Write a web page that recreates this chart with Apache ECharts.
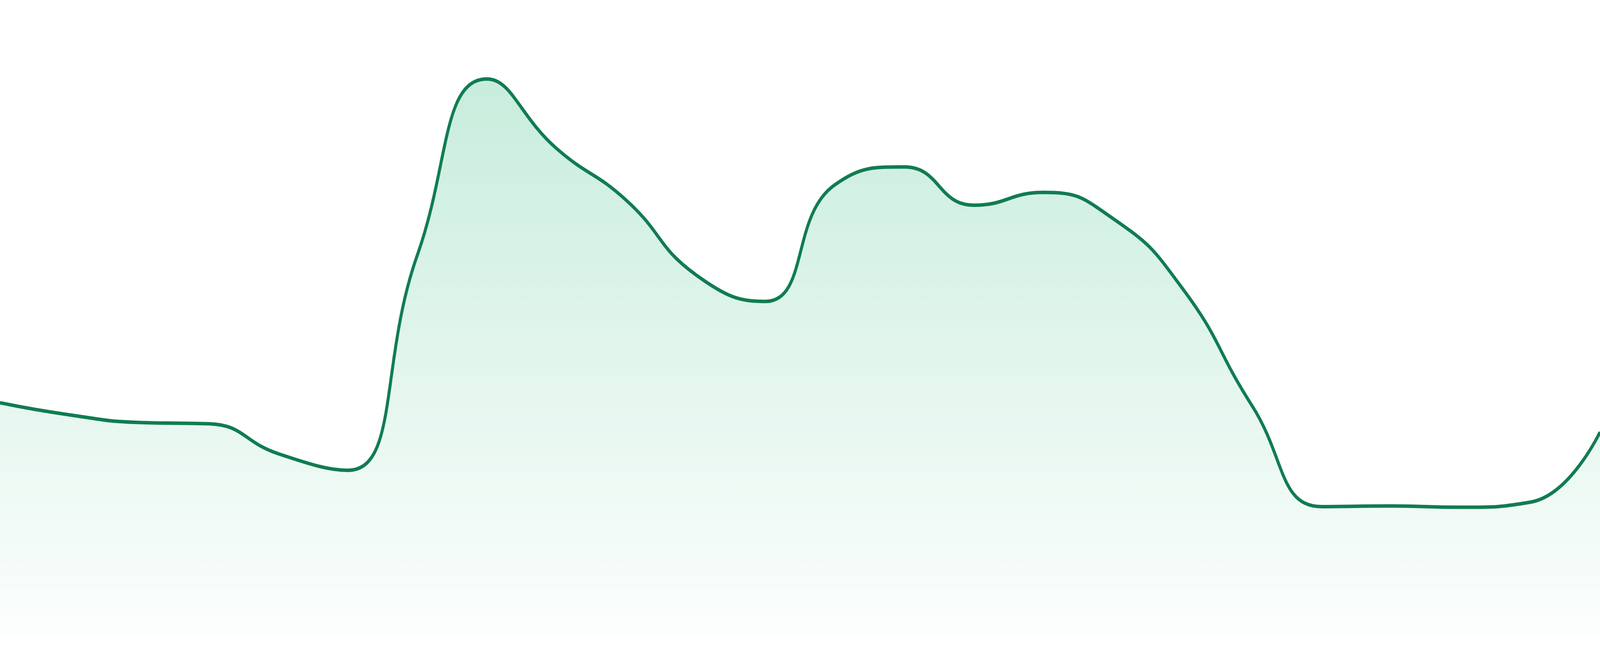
<!DOCTYPE html>
<html>
<head>
<meta charset="utf-8">
<script src="https://cdn.jsdelivr.net/npm/echarts@6/dist/echarts.min.js"></script>
<style>
  html, body { margin: 0; padding: 0; background: #ffffff; width: 100%; height: 100%; overflow: hidden; }
  #chart { width: 4800px; height: 1680px; transform-origin: 0 0; }
</style>
</head>
<body>
<div id="chart"></div>
<script>
const categories = ['1','2','3','4','5','6','7','8','9','10','11','12','13','14','15','16','17','18','19','20','21','22','23','24'];
const values = [36.8, 34.9, 33.7, 33.5, 28.8, 26.2, 60.0, 87.6, 76.7, 68.6, 56.9, 52.7, 71.0, 73.8, 67.8, 69.8, 65.7, 54.7, 36.3, 20.5, 20.6, 20.4, 21.2, 32.2];

const el = document.getElementById('chart');
// fit the 4800x1680 design into whatever viewport the browser actually provides
const sx = window.innerWidth / 4800;
const sy = window.innerHeight / 1680;
el.style.transform = 'scale(' + sx + ',' + sy + ')';

const chart = echarts.init(el);
chart.setOption({
  animation: false,
  grid: { left: 0, right: 0, top: 0, bottom: 48, containLabel: false },
  xAxis: {
    type: 'category',
    data: categories,
    boundaryGap: false,
    show: false
  },
  yAxis: {
    type: 'value',
    min: 0,
    max: 100,
    show: false,
    splitLine: { show: false }
  },
  series: [{
    type: 'line',
    data: values,
    smooth: true,
    symbol: 'none',
    lineStyle: { color: '#107c52', width: 9 },
    itemStyle: { color: '#107c52' },
    areaStyle: {
      color: new echarts.graphic.LinearGradient(0, 0, 0, 1, [
        { offset: 0, color: 'rgba(58,190,133,0.40)' },
        { offset: 1, color: 'rgba(58,190,133,0.02)' }
      ])
    }
  }]
});
</script>
</body>
</html>
